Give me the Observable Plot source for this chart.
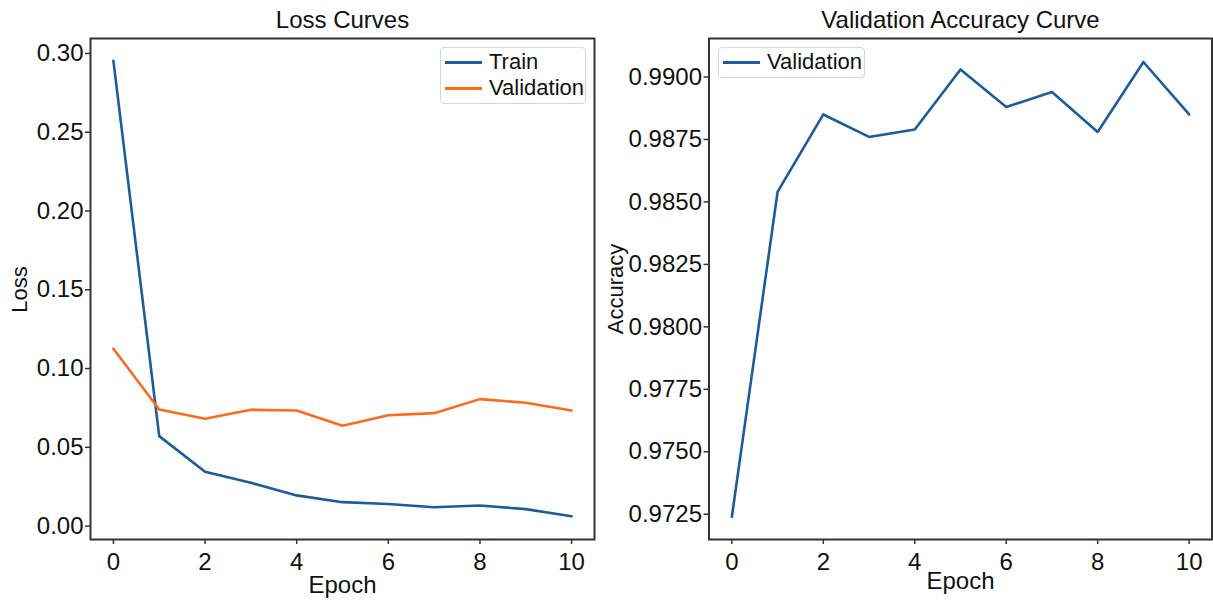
<!DOCTYPE html>
<html>
<head>
<meta charset="utf-8">
<script src="https://cdn.jsdelivr.net/npm/d3@7"></script>
<script src="https://cdn.jsdelivr.net/npm/@observablehq/plot@0.6"></script>
<style>
  html, body { margin: 0; padding: 0; background: #fff; }
  #wrap { position: relative; width: 1213px; height: 600px; overflow: hidden; font-family: "Liberation Sans", Arial, sans-serif; }
  .panel { position: absolute; top: 0; }
  .legend { position: absolute; border: 1.5px solid #d6d6d6; border-radius: 4px; background: #fff; font-size: 22px; color: #111; padding: 0; box-sizing: border-box; }
  .legend .row { position: absolute; left: 0; display: flex; align-items: center; white-space: nowrap; }
  .legend .sw { display: inline-block; width: 37px; height: 0; border-top: 3px solid; margin-left: 4px; margin-right: 7px; }
</style>
</head>
<body>
<div id="wrap"></div>
<script>
const epochs = [0, 1, 2, 3, 4, 5, 6, 7, 8, 9, 10];
const trainLoss = [0.2953, 0.0571, 0.0345, 0.0275, 0.0195, 0.0152, 0.0140, 0.0120, 0.0131, 0.0108, 0.0063];
const valLoss = [0.1126, 0.0740, 0.0681, 0.0738, 0.0734, 0.0637, 0.0704, 0.0717, 0.0806, 0.0783, 0.0734];
const valAcc = [0.9724, 0.9854, 0.9885, 0.9876, 0.9879, 0.9903, 0.9888, 0.9894, 0.9878, 0.9906, 0.9885];
const xTicks = [0, 2, 4, 6, 8, 10];
const lossTicks = [0.00, 0.05, 0.10, 0.15, 0.20, 0.25, 0.30];
const accTicks = [0.9725, 0.9750, 0.9775, 0.9800, 0.9825, 0.9850, 0.9875, 0.9900];
const BLUE = "#1b5c9e", ORANGE = "#fd6a19";

const lossData = epochs.flatMap((e, i) => [
  {epoch: e, loss: trainLoss[i], series: "Train"},
  {epoch: e, loss: valLoss[i], series: "Validation"}
]);
const accData = epochs.map((e, i) => ({epoch: e, acc: valAcc[i]}));

const FONT = "Liberation Sans, Arial, sans-serif";
const FS = 24;
const wrap = document.getElementById("wrap");

function panel(left, svgNode) {
  const d = document.createElement("div");
  d.className = "panel";
  d.style.left = left + "px";
  d.appendChild(svgNode);
  wrap.appendChild(d);
}

const left = Plot.plot({
  width: 600, height: 600,
  marginLeft: 90, marginRight: 6, marginTop: 38, marginBottom: 61,
  style: {fontFamily: FONT, fontSize: FS + "px", color: "#111", background: "transparent"},
  x: {domain: [-0.5, 10.5]},
  y: {domain: [-0.0085, 0.3095]},
  color: {domain: ["Train", "Validation"], range: [BLUE, ORANGE]},
  marks: [
    Plot.axisX({ticks: xTicks, tickSize: 5, tickPadding: 8, label: null, stroke: "#333", strokeWidth: 1.5}),
    Plot.axisY({ticks: lossTicks, tickFormat: d3.format(".2f"), tickSize: 5, tickPadding: 2, label: null, stroke: "#333", strokeWidth: 1.5}),
    Plot.line(lossData, {x: "epoch", y: "loss", z: "series", stroke: "series", strokeWidth: 2.6}),
    Plot.frame({stroke: "#333", strokeWidth: 2}),
    Plot.text(["Loss Curves"], {frameAnchor: "top", lineAnchor: "middle", dy: -18.5, fontSize: FS, fill: "#111"}),
    Plot.text(["Epoch"], {frameAnchor: "bottom", lineAnchor: "middle", dy: 46, fontSize: FS, fill: "#111"}),
    Plot.text(["Loss"], {frameAnchor: "left", textAnchor: "middle", lineAnchor: "middle", dx: -71, dy: 0.5, rotate: -90, fontSize: 22, fill: "#111"})
  ]
});
panel(0, left);

const right = Plot.plot({
  width: 613, height: 600,
  marginLeft: 108.5, marginRight: 1.5, marginTop: 38, marginBottom: 61,
  style: {fontFamily: FONT, fontSize: FS + "px", color: "#111", background: "transparent"},
  x: {domain: [-0.5, 10.5]},
  y: {domain: [0.97149, 0.99154]},
  marks: [
    Plot.axisX({ticks: xTicks, tickSize: 5, tickPadding: 8, label: null, stroke: "#333", strokeWidth: 1.5}),
    Plot.axisY({ticks: accTicks, tickFormat: d3.format(".4f"), tickSize: 5, tickPadding: 2, label: null, stroke: "#333", strokeWidth: 1.5}),
    Plot.line(accData, {x: "epoch", y: "acc", stroke: BLUE, strokeWidth: 2.6}),
    Plot.frame({stroke: "#333", strokeWidth: 2}),
    Plot.text(["Validation Accuracy Curve"], {frameAnchor: "top", lineAnchor: "middle", dy: -18.5, fontSize: FS, fill: "#111"}),
    Plot.text(["Epoch"], {frameAnchor: "bottom", lineAnchor: "middle", dy: 42, fontSize: FS, fill: "#111"}),
    Plot.text(["Accuracy"], {frameAnchor: "left", textAnchor: "middle", lineAnchor: "middle", dx: -93, dy: 0, rotate: -90, fontSize: 22, fill: "#111"})
  ]
});
panel(600, right);

function legend(x, y, w, h, items) {
  const d = document.createElement("div");
  d.className = "legend";
  Object.assign(d.style, {left: x + "px", top: y + "px", width: w + "px", height: h + "px"});
  items.forEach((it) => {
    const r = document.createElement("div");
    r.className = "row";
    r.style.top = it.top + "px";
    r.style.height = "26px";
    const s = document.createElement("span");
    s.className = "sw";
    s.style.borderTopColor = it.color;
    const t = document.createElement("span");
    t.textContent = it.label;
    r.appendChild(s); r.appendChild(t);
    d.appendChild(r);
  });
  wrap.appendChild(d);
}
legend(440, 47, 146, 57, [
  {label: "Train", color: BLUE, top: 1},
  {label: "Validation", color: ORANGE, top: 27}
]);
legend(718, 47, 147, 31, [
  {label: "Validation", color: BLUE, top: 1}
]);
</script>
</body>
</html>
